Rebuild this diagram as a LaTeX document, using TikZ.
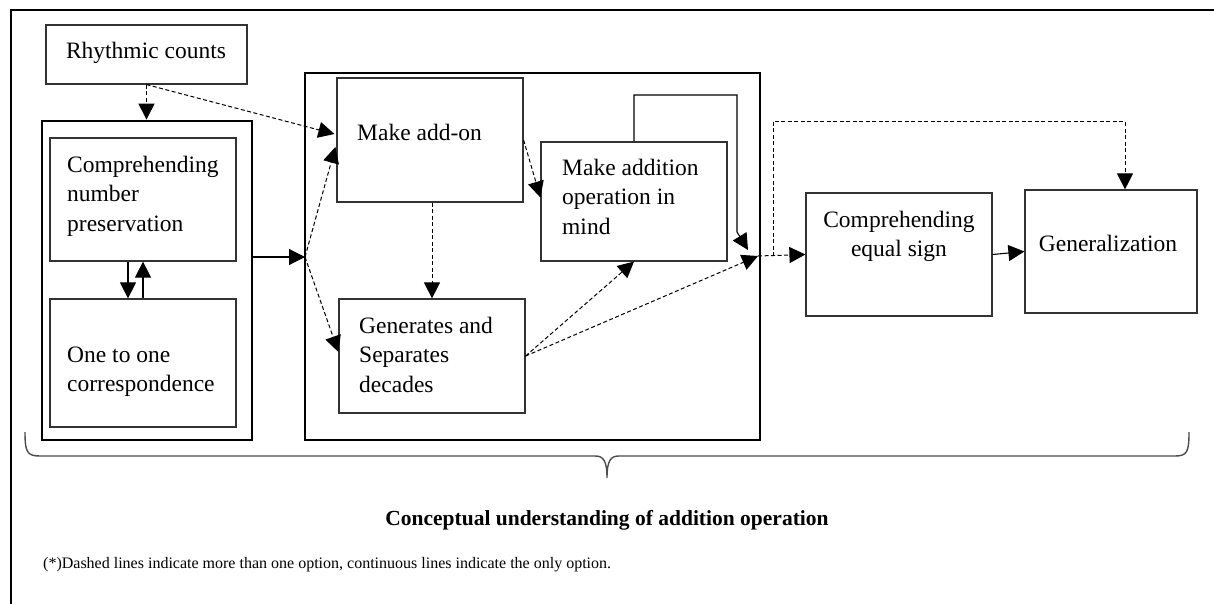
\documentclass[tikz,border=0pt]{standalone}
\usepackage{fontspec}
\setmainfont{Liberation Serif}
\usetikzlibrary{arrows.meta,calc}
\begin{document}
\begin{tikzpicture}[x=1pt,y=-1pt,
  thinbox/.style={draw=black!80, line width=1.2pt, rectangle, inner sep=0pt},
  thickbox/.style={draw=black, line width=2.8pt, rectangle, inner sep=0pt},
  lbl/.style={font=\fontsize{23.5}{29.5}\selectfont, inner sep=0pt, align=left, anchor=north west},
  conn/.style={-{Triangle[length=16pt,width=16pt]}, line width=1.1pt, draw=black},
  dconn/.style={conn, dash pattern=on 4pt off 2.5pt, line width=1pt},
  bracepath/.style={draw=black!70, line width=1.4pt}
]
\useasboundingbox (0,0) rectangle (1214,604);
% outer frame (top and left edges)
\draw[line width=2pt] (10.5,604) -- (10.5,10.5) -- (1214,10.5);

% boxes
\node[thinbox, minimum width=201pt, minimum height=59pt] (rc) at (146.5,54.5) {};
\node[thickbox, minimum width=210pt, minimum height=319pt] (lbox) at (147,280.5) {};
\node[thinbox, minimum width=186pt, minimum height=123pt] (cnp) at (143,199.5) {};
\node[thinbox, minimum width=186pt, minimum height=128pt] (oto) at (143,363) {};
\node[thickbox, minimum width=455pt, minimum height=367pt] (mbox) at (532.5,256.5) {};
\node[thinbox, minimum width=186pt, minimum height=124pt] (mao) at (430,140) {};
\node[thinbox, minimum width=186pt, minimum height=119pt] (maom) at (634,201.5) {};
\node[thinbox, minimum width=186pt, minimum height=114pt] (gsd) at (432,356) {};
\node[thinbox, minimum width=186pt, minimum height=123pt] (ces) at (899,254.5) {};
\node[thinbox, minimum width=172pt, minimum height=123pt] (gen) at (1111,251.5) {};

% texts
\node[lbl, anchor=north, align=center] (rct) at (146,37.3) {\strut Rhythmic counts};
\node[lbl] (cnpt) at (67,151.3) {\strut Comprehending\\number\\preservation};
\node[lbl] (otot) at (67,341.3) {\strut One to one\\correspondence};
\node[lbl] (maot) at (357,119.3) {\strut Make add-on};
\node[lbl] (maomt) at (562,154.3) {\strut Make addition\\operation in\\mind};
\node[lbl] (gsdt) at (359,312.3) {\strut Generates and\\Separates\\decades};
\node[lbl, anchor=north, align=center] (cest) at (899,206.3) {\strut Comprehending\\equal sign};
\node[lbl, anchor=north, align=center] (gent) at (1108,230.3) {\strut Generalization};

% junctions
\coordinate (j1) at (305,257);
\coordinate (j2) at (758,256);
\coordinate (j3) at (773,256);
\coordinate (g1) at ($(gen.north)+(14,0)$);

% connectors
\draw[dconn] (rc.south) -- (rc.south |- lbox.north);
\draw[dconn] (rc.south) -- ($(mao.west)+(-2,-6)$);
\draw[conn] (lbox.east |- j1) -- (j1);
\draw[dconn] (j1) -- ($(mao.west)+(-1,7)$);
\draw[dconn] (j1) -- ($(gsd.west)+(0,-4)$);
\draw[conn] ($(cnp.south)+(-15,0)$) -- ($(oto.north)+(-15,0)$);
\draw[conn] (oto.north) -- (cnp.south);
\draw[dconn] (mao.east) -- ($(maom.west)+(0,-4)$);
\draw[dconn] (gsd.north |- mao.south) -- (gsd.north);
\draw[dconn] (gsd.east) -- (maom.south);
\draw[dconn] (gsd.east) -- (j2);
\draw[conn] (maom.north) -- (634,95) -- (737,95) -- (737,232) -- (748,250);
\draw[dconn] (j2) -- (ces.west);
\draw[dconn] (j3) |- ($(g1)+(0,-68)$) -- (g1);
\draw[conn] (ces.east) -- (gen.west);

% brace
\draw[bracepath] (25,432) .. controls (25,452) and (27,456) .. (40,456) -- (595,456)
  .. controls (603,456) and (607,460) .. (607,478)
  .. controls (607,460) and (611,456) .. (619,456) -- (1175,456)
  .. controls (1187,456) and (1189,452) .. (1189,432);

% captions
\node[font=\bfseries\fontsize{21.5}{25}\selectfont, anchor=base, inner sep=0pt] (cap) at (607,525) {Conceptual understanding of addition operation};
\node[font=\fontsize{16}{20}\selectfont, anchor=base west, inner sep=0pt] (note) at (43,568) {(*)Dashed lines indicate more than one option, continuous lines indicate the only option.};
\end{tikzpicture}
\end{document}
